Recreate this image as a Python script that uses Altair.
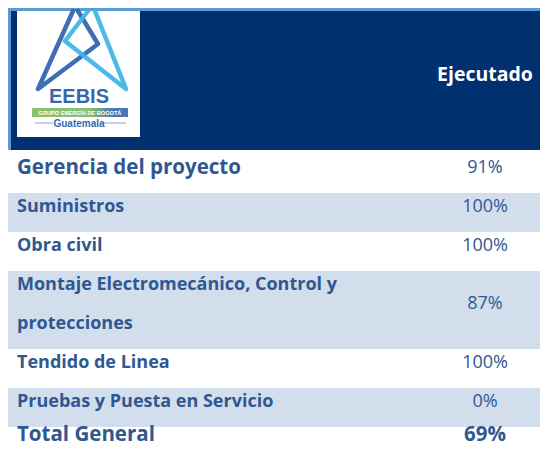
import altair as alt
import pandas as pd

# ---- data ----
tasks = [
    "Gerencia del proyecto",
    "Suministros",
    "Obra civil",
    "Montaje Electromecánico, Control y\nprotecciones",
    "Tendido de Linea",
    "Pruebas y Puesta en Servicio",
    "Total General",
]
executed = [91, 100, 100, 87, 100, 0, 69]
header_title = "Ejecutado"
logo_name = "EEBIS"
logo_group = "GRUPO ENERGÍA DE BOGOTÁ"
logo_country = "Guatemala"

# ---- styles / layout ----
FONT = "Open Sans"
NAVY = "#00306F"
BORDER = "#5B9BD5"
BAND = "#D3DEED"
TXT = "#2F5891"
W, H = 532, 437
X0, Y0 = 8, 8          # page offset of the chart origin
HEADER_BOTTOM = 150
FIRST_TOP = 154
LINE_H = 39
VAL_X = 485
LABEL_X = 17

rows = []
top = FIRST_TOP
last = len(tasks) - 1
for i, (t, v) in enumerate(zip(tasks, executed)):
    n = t.count("\n") + 1
    h = LINE_H * n
    off = 7.5 if i == last else 13.5
    rows.append(dict(
        task=t, value=f"{v}%", top=top, bottom=top + h,
        ly=top + off, vy=top + off + (n - 1) * LINE_H / 2,
        band=(i % 2 == 1),
        big=(i == 0 or i == last), total=(i == last),
    ))
    top += h
df = pd.DataFrame(rows)

xs = alt.Scale(domain=[X0, X0 + W], nice=False, zero=False)
ys = alt.Scale(domain=[Y0 + H, Y0], nice=False, zero=False)


def X(f, **k):
    return alt.X(f, type="quantitative", scale=xs, axis=None, **k)


def Y(f, **k):
    return alt.Y(f, type="quantitative", scale=ys, axis=None, **k)


base = alt.Chart(df)

bands = base.transform_filter("datum.band").transform_calculate(
    x1=str(X0), x2=str(X0 + W)
).mark_rect(color=BAND).encode(
    x=X("x1:Q"), x2="x2:Q", y=Y("top:Q"), y2="bottom:Q"
)

# header blocks
hdr = pd.DataFrame([
    dict(x1=X0, x2=X0 + W, y1=Y0, y2=HEADER_BOTTOM, c=BORDER),
    dict(x1=X0 + 3, x2=X0 + W, y1=Y0 + 3, y2=HEADER_BOTTOM, c=NAVY),
    dict(x1=17, x2=140, y1=Y0 + 3, y2=137, c="#FFFFFF"),
])
header = alt.Chart(hdr).mark_rect().encode(
    x=X("x1:Q"), x2="x2:Q", y=Y("y1:Q"), y2="y2:Q",
    color=alt.Color("c:N", scale=None),
)

# logo strokes (drawing of the emblem)
logo_pts = pd.DataFrame([
    # dark blue stroke
    dict(p="d1", o=0, x=73, y=11, c="#2F62AC"),
    dict(p="d1", o=1, x=38, y=89, c="#2F62AC"),
    dict(p="d1", o=2, x=98, y=44, c="#2F62AC"),
    dict(p="d1", o=3, x=78, y=11, c="#2F62AC"),
    # light blue stroke
    dict(p="l1", o=0, x=88, y=11, c="#3DB4E5"),
    dict(p="l1", o=1, x=65, y=41, c="#3DB4E5"),
    dict(p="l1", o=2, x=126, y=89, c="#3DB4E5"),
    dict(p="l1", o=3, x=95, y=11, c="#3DB4E5"),
])
logo_lines = alt.Chart(logo_pts).mark_line(
    strokeWidth=4.5, strokeCap="round", strokeJoin="round", opacity=0.92
).encode(
    x=X("x:Q"), y=Y("y:Q"), order="o:Q", detail="p:N",
    color=alt.Color("c:N", scale=None),
)

grad_bar = alt.Chart(pd.DataFrame([dict(x1=32, x2=128, y1=108, y2=117)])).mark_rect(
    fill=alt.Gradient(
        gradient="linear", x1=0, x2=1, y1=0, y2=0,
        stops=[alt.GradientStop(color="#8CC26C", offset=0),
               alt.GradientStop(color="#86BE72", offset=0.6),
               alt.GradientStop(color="#4A78B6", offset=0.85),
               alt.GradientStop(color="#4A78B6", offset=1)],
    )
).encode(x=X("x1:Q"), x2="x2:Q", y=Y("y1:Q"), y2="y2:Q")

side_lines = alt.Chart(pd.DataFrame([
    dict(x1=35, x2=53, y=123), dict(x1=104, x2=126, y=123)
])).mark_rule(color="#9DB4D6", strokeWidth=1.2).encode(
    x=X("x1:Q"), x2="x2:Q", y=Y("y:Q")
)

logo_text = alt.Chart(pd.DataFrame([
    dict(t=logo_name, x=79, y=97, s=20, c="#3566AE"),
    dict(t=logo_group, x=80, y=112.7, s=5.6, c="#FFFFFF"),
    dict(t=logo_country, x=79, y=123.5, s=10, c="#3566AE"),
])).mark_text(font="Liberation Sans", fontWeight="bold", baseline="middle",
              align="center").encode(
    x=X("x:Q"), y=Y("y:Q"), text="t:N",
    size=alt.Size("s:Q", scale=None),
    color=alt.Color("c:N", scale=None),
)

title = alt.Chart(pd.DataFrame([dict(t=header_title, x=VAL_X, y=75)])).mark_text(
    font=FONT, fontSize=19.5, fontWeight="bold", color="#FFFFFF",
    align="center", baseline="middle",
).encode(x=X("x:Q"), y=Y("y:Q"), text="t:N")

label_reg = base.transform_filter("!datum.big").transform_calculate(
    lx=str(LABEL_X)
).mark_text(
    font=FONT, fontSize=18, fontWeight="bold", color=TXT, align="left",
    baseline="middle", lineBreak="\n", lineHeight=LINE_H,
).encode(x=X("lx:Q"), y=Y("ly:Q"), text="task:N")

label_big = base.transform_filter("datum.big").transform_calculate(
    lx=str(LABEL_X)
).mark_text(
    font=FONT, fontSize=20.5, fontWeight="bold", color=TXT, align="left",
    baseline="middle",
).encode(x=X("lx:Q"), y=Y("ly:Q"), text="task:N")

val_reg = base.transform_filter("!datum.total").transform_calculate(
    vx=str(VAL_X)
).mark_text(
    font=FONT, fontSize=18, color=TXT, align="center", baseline="middle",
).encode(x=X("vx:Q"), y=Y("vy:Q"), text="value:N")

val_tot = base.transform_filter("datum.total").transform_calculate(
    vx=str(VAL_X)
).mark_text(
    font=FONT, fontSize=20.5, fontWeight="bold", color=TXT, align="center",
    baseline="middle",
).encode(x=X("vx:Q"), y=Y("vy:Q"), text="value:N")

chart = alt.layer(
    bands, header, logo_lines, grad_bar, side_lines, logo_text, title,
    label_reg, label_big, val_reg, val_tot,
).properties(width=W, height=H, padding=0, autosize="none").configure_view(
    stroke=None
)

chart.save("out.html", embed_options={"renderer": "svg", "actions": False})
